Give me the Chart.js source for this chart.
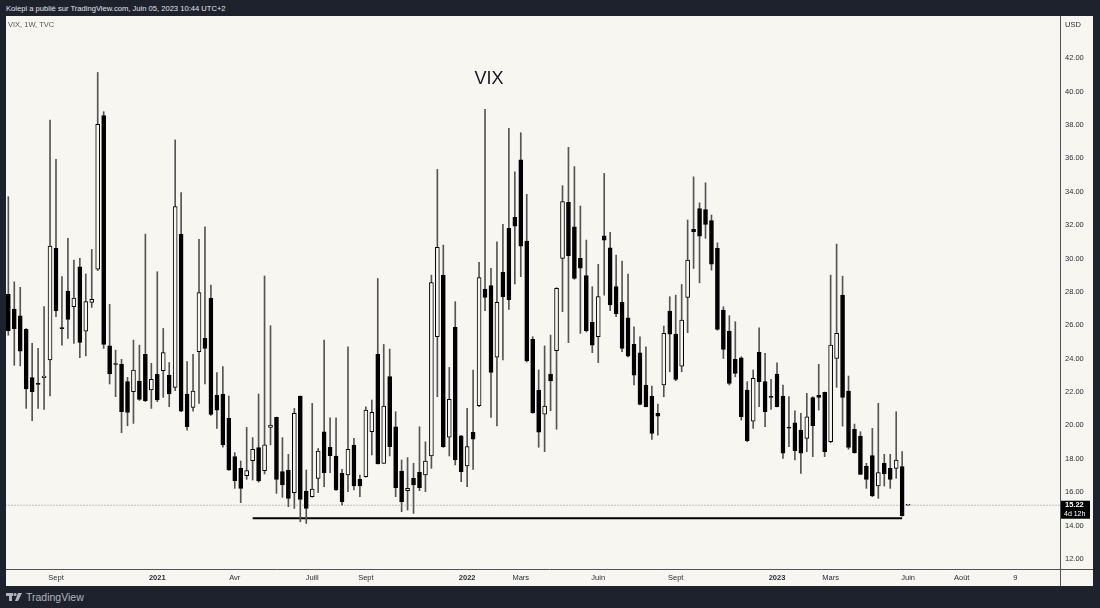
<!DOCTYPE html>
<html>
<head>
<meta charset="utf-8">
<script src="https://cdn.jsdelivr.net/npm/chart.js@4.4.1/dist/chart.umd.min.js"></script>
<style>
  body { margin: 0; background: #1e222d; width: 1100px; height: 608px; overflow: hidden; font-family: "Liberation Sans", Arial, sans-serif; }
  #head { position: absolute; left: 6px; top: 4px; color: #e0e3eb; font-size: 7.6px; }
  #wrap { position: absolute; left: 6px; top: 16px; width: 1087px; height: 570px; background: #f8f6f0; }
  #foot { position: absolute; left: 6px; top: 591px; color: #b2b5be; font-size: 10.5px; display: flex; align-items: center; gap: 3px; }
</style>
</head>
<body>
<div id="head">Kolepi a publié sur TradingView.com, Juin 05, 2023 10:44 UTC+2</div>
<div id="wrap"><canvas id="chart" width="1087" height="570"></canvas></div>
<div id="foot">
  <svg width="17" height="10" viewBox="0 0 17 10"><rect x="0" y="1" width="7" height="3" fill="#b2b5be"/><rect x="3" y="1" width="3" height="8" fill="#b2b5be"/><circle cx="9" cy="2.5" r="1.6" fill="#b2b5be"/><polygon points="12,1 16,1 12,9 9,9" fill="#b2b5be"/></svg>
  <span>TradingView</span>
</div>
<script>
// weekly VIX candles, first week starts 2020-07-13
const weekStart = '2020-07-13';

const opens = [27.85, 26.97, 26.57, 25.75, 22.86, 22.52, 22.86, 23.92, 30.60, 25.85,
  28.05, 27.11, 29.50, 25.65, 27.37, 29.35, 38.55, 24.77, 23.68, 23.66,
  22.62, 22.02, 22.66, 24.26, 22.12, 23.06, 23.28, 23.02, 22.28, 31.44,
  21.88, 21.08, 24.42, 25.21, 27.61, 21.82, 21.88, 20.42, 18.13, 17.43,
  16.99, 17.89, 18.67, 17.29, 19.88, 20.48, 17.23, 17.33, 15.97, 21.76,
  16.07, 15.73, 16.83, 19.62, 18.68, 18.17, 17.13, 17.03, 18.82, 16.77,
  16.93, 19.62, 24.25, 17.73, 22.92, 19.92, 17.27, 16.09, 16.83, 17.19,
  17.03, 18.17, 25.31, 29.00, 19.29, 25.87, 19.37, 17.57, 19.59, 21.18,
  28.17, 28.37, 24.08, 29.17, 31.80, 32.46, 35.90, 31.04, 25.15, 22.12,
  20.68, 23.08, 24.48, 30.00, 33.36, 31.90, 30.00, 28.97, 26.17, 25.31,
  31.36, 30.64, 28.31, 27.37, 26.45, 24.85, 24.35, 22.42, 21.76, 20.72,
  22.42, 26.85, 25.47, 23.55, 27.67, 31.74, 32.99, 32.93, 32.26, 30.60,
  26.91, 25.65, 23.95, 24.05, 22.12, 20.26, 24.37, 22.62, 21.70, 23.08,
  21.76, 19.86, 20.16, 19.72, 19.22, 21.66, 21.80, 21.98, 19.02, 24.01,
  27.81, 22.06, 19.76, 19.36, 17.57, 18.19, 16.37, 17.73, 17.43, 17.43,
  17.53, 15.22];
const highs = [33.70, 28.60, 28.27, 25.80, 24.91, 24.61, 27.11, 38.29, 35.93, 28.91,
  31.20, 29.90, 30.00, 29.07, 30.54, 41.14, 38.79, 27.25, 24.51, 23.96,
  22.88, 25.11, 24.81, 31.46, 23.72, 29.20, 25.81, 23.76, 37.10, 33.94,
  23.82, 24.26, 31.14, 31.90, 28.41, 23.16, 23.52, 21.76, 18.37, 17.87,
  19.88, 19.27, 21.88, 28.95, 25.97, 20.50, 19.27, 18.27, 21.02, 21.76,
  17.33, 21.32, 18.62, 25.11, 20.46, 20.46, 17.37, 24.71, 19.22, 17.03,
  21.12, 21.52, 28.80, 24.85, 24.57, 20.82, 17.93, 18.07, 17.73, 19.92,
  19.02, 29.00, 35.33, 30.80, 23.47, 27.41, 19.40, 21.02, 23.32, 29.77,
  38.93, 29.41, 31.00, 32.04, 37.79, 35.19, 37.53, 33.84, 25.31, 23.32,
  24.76, 25.41, 28.25, 34.36, 36.65, 35.50, 33.14, 31.10, 28.31, 29.65,
  35.09, 31.56, 30.20, 29.84, 29.07, 25.91, 25.31, 24.71, 22.36, 21.28,
  25.95, 27.71, 27.80, 28.44, 32.30, 34.89, 33.33, 34.53, 32.60, 30.94,
  27.11, 26.57, 26.21, 24.11, 22.62, 23.32, 25.85, 24.31, 22.76, 23.75,
  22.42, 21.72, 20.88, 20.72, 21.92, 21.72, 23.66, 22.00, 29.00, 30.86,
  28.94, 22.96, 20.08, 19.62, 17.73, 19.82, 21.32, 18.27, 18.27, 20.82,
  18.43, 15.22];
const lows = [25.40, 23.60, 23.56, 21.02, 20.28, 21.02, 20.96, 21.76, 26.51, 24.81,
  25.21, 24.91, 24.06, 24.16, 27.07, 29.27, 24.61, 22.48, 21.72, 19.56,
  19.98, 20.12, 21.50, 21.42, 21.02, 21.42, 21.68, 21.12, 22.08, 20.82,
  19.72, 20.86, 21.32, 22.48, 20.60, 19.82, 18.69, 17.30, 16.23, 15.37,
  16.77, 16.73, 16.60, 17.09, 18.83, 15.93, 15.69, 15.13, 15.03, 14.23,
  14.13, 15.70, 15.97, 16.33, 17.17, 16.10, 15.23, 16.03, 16.13, 15.73,
  16.90, 18.23, 17.69, 17.73, 18.17, 15.73, 14.83, 14.93, 14.73, 16.09,
  16.03, 17.43, 21.72, 18.68, 18.17, 17.63, 16.63, 16.33, 17.37, 21.12,
  26.87, 20.48, 19.97, 23.92, 26.95, 28.47, 28.91, 23.80, 20.72, 18.69,
  18.43, 20.88, 19.77, 26.81, 24.96, 28.75, 25.51, 25.60, 24.36, 23.76,
  27.80, 26.87, 26.51, 24.41, 24.10, 22.42, 21.22, 21.10, 19.16, 19.42,
  21.72, 23.21, 22.68, 23.21, 25.55, 29.40, 28.54, 31.20, 29.30, 25.70,
  24.01, 22.42, 22.91, 20.32, 19.02, 19.82, 21.12, 19.92, 20.96, 21.10,
  18.03, 18.72, 17.93, 17.13, 18.43, 18.13, 20.92, 18.13, 18.96, 22.28,
  19.96, 18.57, 18.33, 17.05, 16.23, 15.73, 15.63, 16.37, 16.23, 16.83,
  14.57, 15.22];
const closes = [25.67, 25.80, 24.45, 22.18, 22.02, 22.45, 22.96, 30.74, 26.87, 25.80,
  26.35, 27.63, 24.97, 27.41, 27.55, 38.03, 24.85, 23.08, 23.65, 20.82,
  20.78, 23.32, 21.56, 21.48, 22.76, 21.52, 24.36, 21.88, 33.10, 20.86,
  19.92, 22.06, 27.95, 24.61, 20.66, 20.92, 18.83, 17.33, 16.69, 16.23,
  17.29, 18.57, 16.67, 18.83, 20.02, 16.77, 16.43, 15.63, 20.72, 15.57,
  15.03, 16.19, 18.46, 17.17, 18.19, 16.13, 15.43, 18.56, 16.37, 16.37,
  20.92, 20.78, 17.69, 21.16, 18.72, 16.27, 15.43, 16.23, 16.43, 16.27,
  17.87, 28.56, 30.66, 18.73, 21.56, 17.93, 17.23, 18.73, 19.17, 28.85,
  27.67, 23.18, 27.37, 27.71, 27.51, 31.94, 30.74, 23.86, 20.76, 19.59,
  21.16, 22.66, 28.21, 33.40, 30.17, 28.80, 29.41, 25.67, 24.81, 27.71,
  31.10, 27.21, 26.67, 24.61, 24.15, 23.01, 21.26, 21.12, 19.52, 20.56,
  25.51, 25.47, 22.76, 26.31, 29.90, 31.60, 31.34, 32.04, 29.66, 25.75,
  24.55, 22.52, 23.11, 20.52, 19.08, 22.82, 22.62, 20.82, 21.68, 21.12,
  18.33, 19.84, 18.49, 18.33, 20.52, 19.98, 21.68, 18.43, 24.81, 25.51,
  21.68, 18.68, 18.37, 17.07, 16.77, 15.77, 17.17, 17.09, 16.77, 17.93,
  14.60, 15.22];

const tickDates = ['2020-09-07', '2021-01-04', '2021-04-05', '2021-07-05', '2021-09-06', '2022-01-03', '2022-03-07',
  '2022-06-06', '2022-09-05', '2023-01-02', '2023-03-06', '2023-06-05', '2023-08-07', '2023-10-09'];
const tickLabels = ['Sept', '2021', 'Avr', 'Juill', 'Sept', '2022', 'Mars', 'Juin', 'Sept', '2023', 'Mars', 'Juin', 'Août', '9'];
const priceTicks = [12, 14, 16, 18, 20, 22, 24, 26, 28, 30, 32, 34, 36, 38, 40, 42];

// horizontal drawing under the lows
const supportDates = ['2021-04-26', '2023-05-29'];
const supportPrice = 14.44;
const lastPrice = 15.22;
const countdown = '4d 12h';

function weekIndex(d) {
  return Math.round((Date.parse(d) - Date.parse(weekStart)) / (7 * 864e5));
}

const bodies = opens.map((o, i) => ({ x: i, y: [o, closes[i]] }));
const wicks = lows.map((l, i) => ({ x: i, y: [l, highs[i]] }));
const bodyColors = opens.map((o, i) => closes[i] >= o ? '#f8f6f0' : '#000000');
const tickIdx = tickDates.map(weekIndex);
const yearLabel = l => /^\d{4}$/.test(l);

const overlay = {
  id: 'overlay',
  afterDraw(chart) {
    const c = chart.ctx, a = chart.chartArea, y = chart.scales.y;
    c.save();
    c.strokeStyle = '#50535e';
    c.lineWidth = 1;
    c.beginPath();
    c.moveTo(Math.round(a.right) + 0.5, 0);
    c.lineTo(Math.round(a.right) + 0.5, chart.height);
    c.moveTo(0, Math.round(a.bottom) + 0.5);
    c.lineTo(chart.width, Math.round(a.bottom) + 0.5);
    c.stroke();

    c.fillStyle = '#131722';
    c.font = '18px "Liberation Sans", Arial, sans-serif';
    c.textAlign = 'center';
    c.textBaseline = 'middle';
    c.fillText('VIX', 483, 63);

    c.fillStyle = '#55585f';
    c.font = '7.5px "Liberation Sans", Arial, sans-serif';
    c.textAlign = 'left';
    c.fillText('VIX, 1W, TVC', 2, 9);
    c.fillStyle = '#2a2e39';
    c.fillText('USD', a.right + 5, 9);

    const py = y.getPixelForValue(lastPrice);
    c.fillStyle = '#000000';
    c.fillRect(a.right + 1, py - 4.5, 29, 18);
    c.fillStyle = '#ffffff';
    c.font = 'bold 7.5px "Liberation Sans", Arial, sans-serif';
    c.fillText(lastPrice.toFixed(2), a.right + 5, py);
    c.font = '7px "Liberation Sans", Arial, sans-serif';
    c.fillText(countdown, a.right + 4, py + 8.5);
    c.restore();
  }
};

new Chart(document.getElementById('chart'), {
  type: 'bar',
  data: {
    datasets: [
      {
        data: bodies,
        backgroundColor: bodyColors,
        borderColor: '#000000',
        borderWidth: 1,
        borderSkipped: false,
        barThickness: 4,
        minBarLength: 1,
        grouped: false,
        order: 0
      },
      {
        data: wicks,
        backgroundColor: '#555555',
        borderWidth: 0,
        barThickness: 1,
        grouped: false,
        order: 1
      },
      {
        type: 'line',
        data: supportDates.map(d => ({ x: weekIndex(d), y: supportPrice })),
        borderColor: '#000000',
        borderWidth: 2,
        pointRadius: 0,
        order: 2
      },
      {
        type: 'line',
        data: [{ x: -5, y: lastPrice }, { x: 200, y: lastPrice }],
        borderColor: '#8a8d96',
        borderWidth: 1,
        borderDash: [1, 2],
        pointRadius: 0,
        order: 3
      }
    ]
  },
  options: {
    responsive: false,
    animation: false,
    layout: { padding: 0 },
    plugins: { legend: { display: false }, tooltip: { enabled: false } },
    scales: {
      x: {
        type: 'linear',
        min: -0.39,
        max: 176.49,
        offset: false,
        grid: { display: false, drawTicks: false },
        border: { display: false },
        afterBuildTicks: s => { s.ticks = tickIdx.map(v => ({ value: v })); },
        afterFit: s => { s.height = 17; s.paddingLeft = 0; s.paddingRight = 0; },
        ticks: {
          autoSkip: false,
          maxRotation: 0,
          padding: 4,
          color: '#2a2e39',
          font: ctx => ({ family: '"Liberation Sans", Arial, sans-serif', size: 7.5,
            weight: ctx.tick && yearLabel(tickLabels[tickIdx.indexOf(ctx.tick.value)] || '') ? 'bold' : 'normal' }),
          callback: v => tickLabels[tickIdx.indexOf(v)] || ''
        }
      },
      y: {
        position: 'right',
        min: 11.40,
        max: 44.52,
        grid: { display: false, drawTicks: false },
        border: { display: false },
        afterBuildTicks: s => { s.ticks = priceTicks.map(v => ({ value: v })); },
        afterFit: s => { s.width = 33; s.paddingTop = 0; s.paddingBottom = 0; },
        ticks: {
          padding: 5,
          color: '#2a2e39',
          font: { family: '"Liberation Sans", Arial, sans-serif', size: 7.5 },
          callback: v => v.toFixed(2)
        }
      }
    }
  },
  plugins: [overlay]
});
</script>
</body>
</html>
